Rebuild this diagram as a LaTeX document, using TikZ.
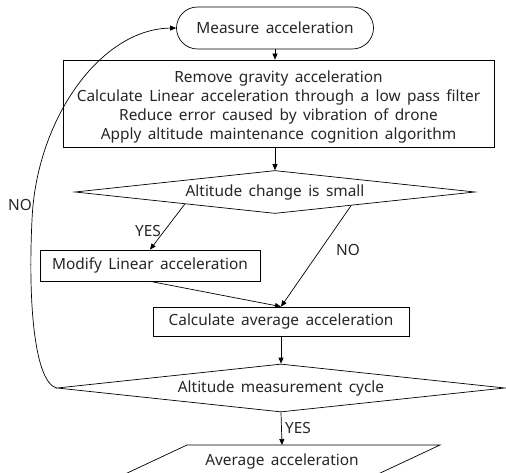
\documentclass[tikz,border=0pt]{standalone}
\usepackage{fontspec}
\setmainfont{Noto Sans}[WordSpace=1.6]
\usetikzlibrary{shapes.geometric,arrows.meta,calc}
\begin{document}
\begin{tikzpicture}[x=1pt,y=-1pt,
  every node/.style={font=\fontsize{15.4}{19.3}\selectfont, text=black!85, inner sep=0pt},
  box/.style={draw, line width=0.7pt},
  dec/.style={draw, diamond, line width=0.7pt, aspect=9},
  arr/.style={-{Triangle[length=6pt,width=5pt]}, line width=0.7pt},
  ln/.style={line width=0.7pt}]
\useasboundingbox (0,0) rectangle (506,473);
\clip (0,0) rectangle (506,473);
\node[box, rounded corners=21pt, minimum width=197pt, minimum height=42pt] (start) at (275,28) {Measure acceleration};
\node[box, minimum width=431pt, minimum height=87pt] (proc) at (278.5,103.5) {};
\node[align=center] (proctext) at (278.5,107) {Remove gravity acceleration\\Calculate Linear acceleration through a low pass filter\\Reduce error caused by vibration of drone\\Apply altitude maintenance cognition algorithm};
\node[dec, minimum width=400pt, minimum height=43pt] (d1) at (275,192) {Altitude change is small};
\node[box, minimum width=220pt, minimum height=31pt] (mod) at (150,265.5) {Modify Linear acceleration};
\node[box, minimum width=256pt, minimum height=29pt] (calc) at (281,321.5) {Calculate average acceleration};
\node[dec, minimum width=448pt, minimum height=48pt] (d2) at (281,388) {Altitude measurement cycle};
\coordinate (ptop) at (282,445);
\draw[ln] (187,445) -- (440,445) -- (344,490) -- (91,490) -- cycle;
\node (avg) at (282,461) {Average acceleration};
\node (yes1) at (148,231) {YES};
\node (no1) at (348,250) {NO};
\node (no2) at (20,205) {NO};
\node (yes2) at (298,428) {YES};
\draw[arr] (start.south) -- (start.south |- proc.north);
\draw[arr] (start.south |- proc.south) -- (d1.north);
\draw[arr] ($(d1.west)!0.55!(d1.south)$) -- (mod.north);
\draw[arr] ($(d1.east)!0.62!(d1.south)$) -- (calc.north);
\draw[arr] (mod.south) -- (calc.north);
\draw[arr] (calc.south) -- (d2.north);
\draw[arr] (d2.south) -- (ptop);
\draw[arr] (d2.west) .. controls (34,382) and (28,300) .. (32,220) .. controls (36,120) and (100,29) .. (start.west);
\end{tikzpicture}
\end{document}
